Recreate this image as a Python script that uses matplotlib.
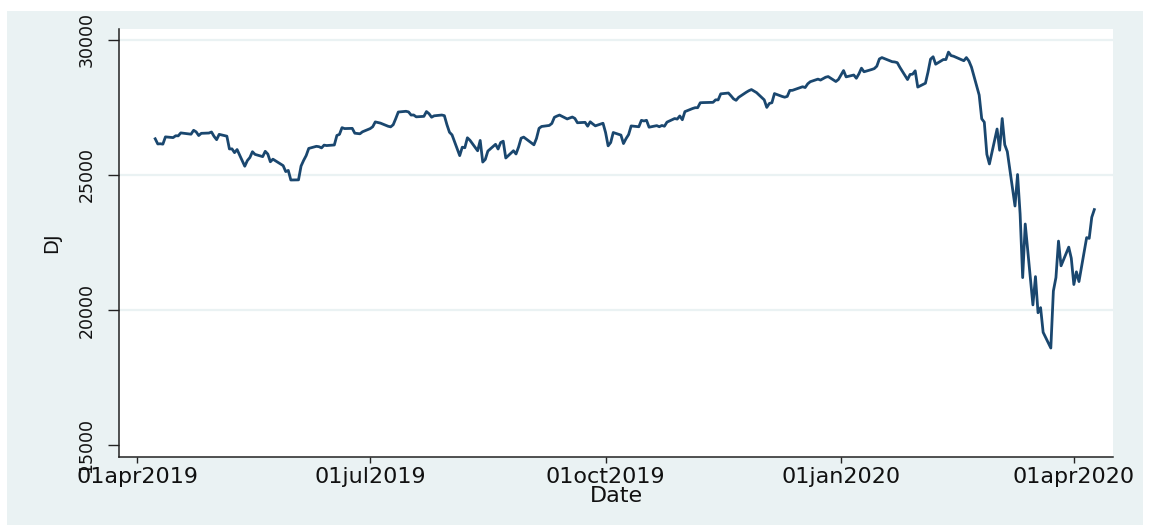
import numpy as np
import pandas as pd
import matplotlib
matplotlib.use("Agg")
import matplotlib.pyplot as plt
import matplotlib.dates as mdates
from matplotlib.patches import Rectangle
from matplotlib.ticker import FuncFormatter

# Dow Jones daily closes, one list per month (trading days only)
apr19 = [26341, 26150, 26157, 26143, 26412, 26385, 26453, 26450, 26559, 26511,
         26656, 26597, 26462, 26543, 26554, 26593]
may19 = [26430, 26308, 26505, 26438, 25965, 25968, 25828, 25942, 25325, 25532,
         25648, 25862, 25764, 25680, 25877, 25776, 25490, 25586, 25347, 25126,
         25169, 24815]
jun19 = [24820, 25332, 25540, 25720, 25984, 26062, 26048, 26004, 26106, 26090,
         26112, 26465, 26504, 26753, 26719, 26727, 26548, 26537, 26526, 26600]
jul19 = [26718, 26787, 26966, 26922, 26806, 26783, 26860, 27088, 27332, 27359,
         27336, 27220, 27223, 27154, 27172, 27349, 27270, 27140, 27192, 27221,
         27198, 26864]
aug19 = [26583, 26485, 25718, 26030, 26008, 26378, 26287, 25897, 26280, 25479,
         25579, 25886, 26136, 25962, 26202, 26252, 25629, 25898, 25778, 26036,
         26363, 26403]
sep19 = [26118, 26355, 26728, 26797, 26835, 26909, 27137, 27182, 27220, 27076,
         27111, 27147, 27095, 26935, 26950, 26808, 26970, 26891, 26820, 26917]
oct19 = [26573, 26079, 26202, 26573, 26478, 26164, 26347, 26497, 26817, 26787,
         27024, 27001, 27026, 26770, 26828, 26788, 26834, 26806, 26958, 27091,
         27071, 27186, 27046]
nov19 = [27347, 27462, 27492, 27493, 27675, 27681, 27691, 27691, 27784, 27782,
         28005, 28036, 27934, 27821, 27766, 27876, 28066, 28122, 28164, 28051]
dec19 = [27783, 27503, 27650, 27677, 28015, 27909, 27881, 27911, 28132, 28135,
         28235, 28268, 28239, 28377, 28455, 28551, 28516, 28621, 28645, 28462,
         28538]
jan20 = [28868, 28634, 28703, 28583, 28745, 28956, 28823, 28907, 28940, 29030,
         29298, 29348, 29196, 29186, 29160, 28990, 28535, 28723, 28734, 28859,
         28256]
feb20 = [28399, 28808, 29291, 29379, 29103, 29276, 29276, 29551, 29423, 29398,
         29232, 29348, 29219, 28992, 27961, 27081, 26957, 25766, 25409]
mar20 = [26703, 25917, 27091, 26121, 25865, 23851, 25018, 23553, 21200, 23185,
         20189, 21237, 19899, 20087, 19174, 18592, 20705, 21200, 22552, 21637,
         22328, 21917]
apr20 = [20944, 21413, 21053, 22680, 22654, 23434, 23719]

holidays = ["2019-04-19", "2019-05-27", "2019-07-04", "2019-09-02", "2019-11-28",
            "2019-12-25", "2020-01-01", "2020-01-20", "2020-02-17"]

yticks = [15000, 20000, 25000, 30000]

dj = np.array(apr19 + may19 + jun19 + jul19 + aug19 + sep19 + oct19 + nov19
              + dec19 + jan20 + feb20 + mar20 + apr20)
dates = pd.bdate_range("2019-04-08", "2020-04-09")
dates = dates[~dates.isin(pd.to_datetime(holidays))]
assert len(dates) == len(dj), (len(dates), len(dj))

W, H = 1149, 525
fig = plt.figure(figsize=(W / 100, H / 100), dpi=100, facecolor="white")
# stata-style graph region
fig.patches.append(Rectangle((7 / W, 0), 1136 / W, 514 / H, transform=fig.transFigure,
                             facecolor="#eaf2f3", edgecolor="none", zorder=-10))

ax = fig.add_axes([119 / W, 68 / H, 994 / W, 428 / H])
ax.set_facecolor("white")
ax.plot(dates, dj, color="#1a476f", lw=2.0, solid_joinstyle="round")

ax.set_xlim(pd.Timestamp("2019-04-01") - pd.Timedelta(days=7.15),
            pd.Timestamp("2019-04-01") + pd.Timedelta(days=381.3))
ax.set_ylim(14556, 30407)

for v in yticks[1:]:
    ax.axhline(v, color="#eaf2f3", lw=1.6, zorder=0)

for s in ["top", "right"]:
    ax.spines[s].set_visible(False)
for s in ["left", "bottom"]:
    ax.spines[s].set_color("#222222")
    ax.spines[s].set_linewidth(1.1)

ax.set_yticks(yticks)
ax.set_yticklabels([str(v) for v in yticks], rotation=90, va="center")
ax.xaxis.set_major_locator(mdates.MonthLocator(bymonth=[1, 4, 7, 10]))
ax.xaxis.set_major_formatter(FuncFormatter(lambda x, p: mdates.num2date(x).strftime("%d%b%Y").lower()))

ax.tick_params(axis="y", length=8, width=1, color="#222222", pad=9, labelsize=12.5,
               labelcolor="#111111")
ax.tick_params(axis="x", length=4.5, width=1, color="#222222", pad=3, labelsize=16,
               labelcolor="#111111")

ax.set_xlabel("Date", fontsize=16, labelpad=-1, color="#111111")
ax.set_ylabel("DJ", fontsize=14, labelpad=12, color="#111111")

fig.savefig("out.png", dpi=100, facecolor="white")
